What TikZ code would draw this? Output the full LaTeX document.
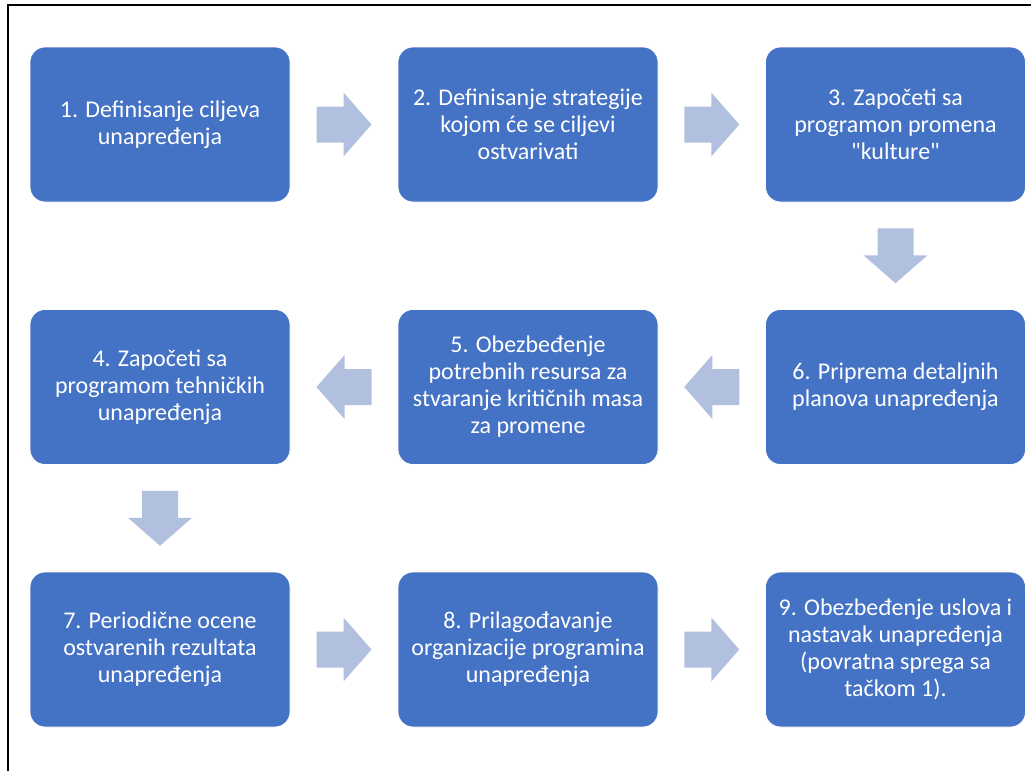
\documentclass[tikz,border=0pt]{standalone}
\usepackage{fontspec}
\setmainfont{Carlito}
% straight double quote, without the TeX quote mapping
\newfontfamily\plainquote{Carlito}[Ligatures=ResetAll]
\usetikzlibrary{calc}
\definecolor{boxblue}{HTML}{4472C4}
\definecolor{arrowblue}{RGB}{178,192,224}
\newcommand{\dq}{{\plainquote"}}
\tikzset{
  stepbox/.style={rectangle, rounded corners=15pt, fill=boxblue, draw=white, line width=0.8pt,
    minimum width=260pt, minimum height=155pt, align=center, text=white,
    font=\fontsize{24}{27}\selectfont, inner sep=0pt},
  blockarrow/.pic={\fill[arrowblue] (-27.5,-18) -- (-0.5,-18) -- (-0.5,-32) -- (27.5,0)
    -- (-0.5,32) -- (-0.5,18) -- (-27.5,18) -- cycle;}
}
\begin{document}
\begin{tikzpicture}[x=1pt,y=-1pt]
\useasboundingbox (0,0) rectangle (1031,771);
% outer frame (left and top edges)
\draw[line width=2pt] (7.5,771) -- (7.5,5) -- (1031,5);
% process steps
\node[stepbox] (b1) at (160,124.5) {1. Definisanje ciljeva\\unapređenja};
\node[stepbox] (b2) at (528,124.5) {2. Definisanje strategije\\kojom će se ciljevi\\ostvarivati};
\node[stepbox] (b3) at (895.5,124.5) {3. Započeti sa\\programon promena\\\dq kulture\dq};
\node[stepbox] (b4) at (160,387) {4. Započeti sa\\programom tehničkih\\unapređenja};
\node[stepbox] (b5) at (528,387) {5. Obezbeđenje\\potrebnih resursa za\\stvaranje kritičnih masa\\za promene};
\node[stepbox] (b6) at (895.5,387) {6. Priprema detaljnih\\planova unapređenja};
\node[stepbox] (b7) at (160,649.5) {7. Periodične ocene\\ostvarenih rezultata\\unapređenja};
\node[stepbox] (b8) at (528,649.5) {8. Prilagođavanje\\organizacije programina\\unapređenja};
\node[stepbox] (b9) at (895.5,649.5) {9. Obezbeđenje uslova i\\nastavak unapređenja\\(povratna sprega sa\\tačkom 1).};
% block arrows between steps
\pic at ($(b1.east)!0.5!(b2.west)$) {blockarrow};
\pic at ($(b2.east)!0.5!(b3.west)$) {blockarrow};
\pic[rotate=-90] at ($(b3.south)!0.5!(b6.north)$) {blockarrow};
\pic[rotate=180] at ($(b6.west)!0.5!(b5.east)$) {blockarrow};
\pic[rotate=180] at ($(b5.west)!0.5!(b4.east)$) {blockarrow};
\pic[rotate=-90] at ($(b4.south)!0.5!(b7.north)$) {blockarrow};
\pic at ($(b7.east)!0.5!(b8.west)$) {blockarrow};
\pic at ($(b8.east)!0.5!(b9.west)$) {blockarrow};
\end{tikzpicture}
\end{document}
